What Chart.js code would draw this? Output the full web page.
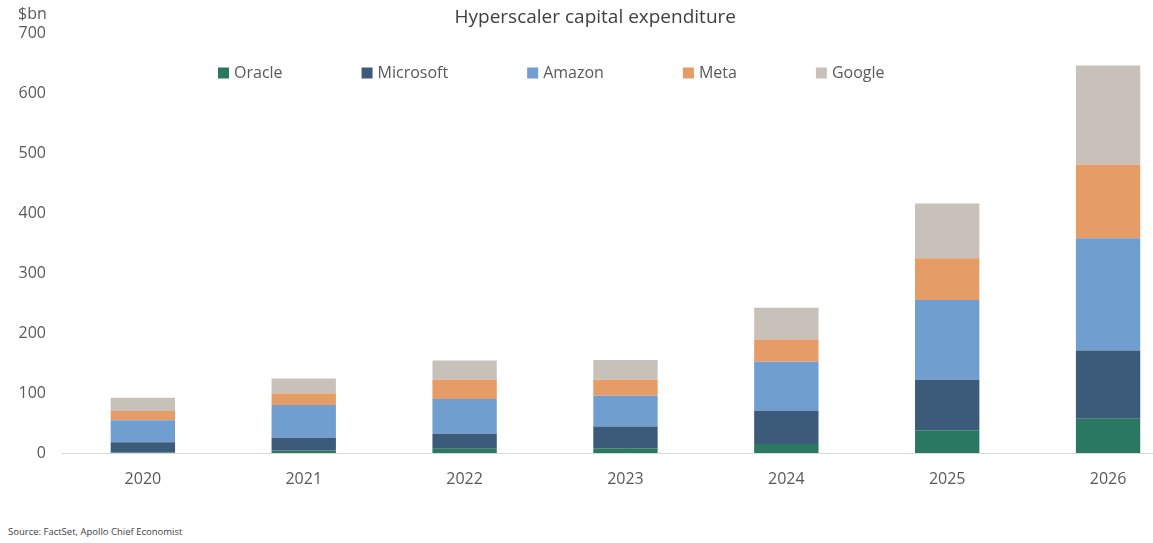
<!DOCTYPE html>
<html><head><meta charset="utf-8">
<script src="https://cdn.jsdelivr.net/npm/chart.js@4"></script>
<style>
html,body{margin:0;padding:0;width:1153px;height:543px;overflow:hidden;background:#fff;}
#wrap{position:absolute;left:0;top:0;width:1190px;height:510px;}
#src{position:absolute;left:8px;top:525px;font:9.5px "Open Sans",sans-serif;color:#404040;white-space:nowrap;}
</style></head><body>
<div id="wrap"><canvas id="c"></canvas></div>
<div id="src">Source: FactSet, Apollo Chief Economist</div>
<script>
const years = ['2020','2021','2022','2023','2024','2025','2026'];
const oracle    = [1, 4, 7, 8, 15, 38, 57];
const microsoft = [17, 21.5, 25, 36, 55, 84, 114];
const amazon    = [36.5, 54.5, 58, 51.5, 82, 133, 187];
const meta      = [15.5, 19, 32, 26.5, 37, 69.5, 123];
const google    = [22, 25, 32, 33, 53, 91.5, 165];
const seriesNames = ['Oracle','Microsoft','Amazon','Meta','Google'];
const seriesColors = ['#2a7862','#3c5a7a','#6f9ecf','#e59c66','#c8c1b9'];
const yMin = 0, yMax = 700, yStep = 100;
const titleText = 'Hyperscaler capital expenditure';
const unitText = '$bn';

const FONT = '"Open Sans", sans-serif';
const TXT = '#595959';

const extras = {
  id: 'extras',
  afterDraw(chart) {
    const ctx = chart.ctx;
    ctx.save();
    ctx.font = '16px ' + FONT;
    ctx.fillStyle = TXT;
    ctx.textBaseline = 'middle';
    ctx.textAlign = 'left';
    ctx.fillText(unitText, 18, 14);
    // legend
    let x = 218;
    const y = 73;
    chart.data.datasets.forEach(ds => {
      ctx.fillStyle = ds.backgroundColor;
      ctx.fillRect(x, y - 5.5, 11, 11);
      ctx.fillStyle = TXT;
      ctx.fillText(ds.label, x + 16, y);
      x += 16 + ctx.measureText(ds.label).width + 79;
    });
    ctx.restore();
  }
};

const dataArrays = [oracle, microsoft, amazon, meta, google];
new Chart(document.getElementById('c'), {
  type: 'bar',
  data: {
    labels: years,
    datasets: dataArrays.map((d, i) => ({
      label: seriesNames[i],
      data: d,
      backgroundColor: seriesColors[i],
      borderWidth: 0,
      categoryPercentage: 1,
      barPercentage: 0.4
    }))
  },
  options: {
    responsive: true,
    maintainAspectRatio: false,
    animation: false,
    layout: { padding: { left: 2, right: 1.5, top: 0, bottom: 5 } },
    plugins: {
      legend: { display: false },
      tooltip: { enabled: false },
      title: {
        display: true,
        text: titleText,
        color: '#404040',
        font: { family: FONT, size: 19, weight: 'normal' },
        padding: { top: 6, bottom: 4.2 }
      }
    },
    scales: {
      x: {
        stacked: true,
        grid: { display: false, drawTicks: false },
        border: { display: true, color: '#d9d9d9', width: 1 },
        ticks: { color: TXT, font: { family: FONT, size: 16 }, padding: 16.4 }
      },
      y: {
        stacked: true,
        min: yMin, max: yMax,
        grid: { display: false, drawTicks: false },
        border: { display: false },
        ticks: { stepSize: yStep, color: TXT, font: { family: FONT, size: 16 }, padding: 16.5 }
      }
    }
  },
  plugins: [extras]
});
</script>
</body></html>
